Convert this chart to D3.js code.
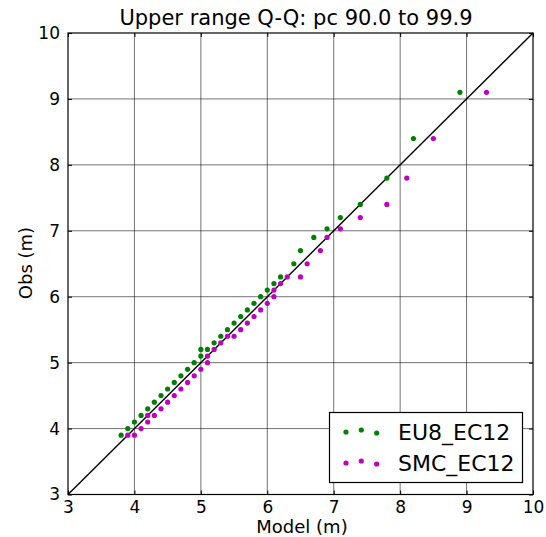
<!DOCTYPE html>
<html><head><meta charset="utf-8">
<script src="https://cdn.jsdelivr.net/npm/d3@7"></script>
<style>body{margin:0;background:#fff}svg{display:block}text{font-family:"DejaVu Sans",sans-serif;fill:#000}</style>
</head><body>
<script>
const title = "Upper range Q-Q: pc 90.0 to 99.9";
const xLabel = "Model (m)";
const yLabel = "Obs (m)";
const ticks = [3,4,5,6,7,8,9,10];
const seriesNames = ["EU8_EC12","SMC_EC12"];
const seriesColors = ["#008000","#bf00bf"];
// EU8_EC12 quantiles
const eu8Model = [3.8,3.9,4.0,4.1,4.2,4.3,4.4,4.5,4.6,4.7,4.8,4.9,5.0,5.0,5.1,5.2,5.3,5.4,5.5,5.6,5.7,5.8,5.9,6.0,6.1,6.2,6.4,6.5,6.7,6.9,7.1,7.4,7.8,8.2,8.9];
const eu8Obs   = [3.9,4.0,4.1,4.2,4.3,4.4,4.5,4.6,4.7,4.8,4.9,5.0,5.1,5.2,5.2,5.3,5.4,5.5,5.6,5.7,5.8,5.9,6.0,6.1,6.2,6.3,6.5,6.7,6.9,7.03,7.2,7.4,7.8,8.4,9.1];
// SMC_EC12 quantiles
const smcModel = [3.9,4.0,4.1,4.2,4.2,4.3,4.4,4.5,4.6,4.7,4.8,4.9,5.0,5.1,5.1,5.2,5.3,5.4,5.5,5.6,5.7,5.8,5.9,6.0,6.1,6.1,6.2,6.3,6.5,6.6,6.8,6.9,7.1,7.4,7.8,8.1,8.5,9.3];
const smcObs   = [3.9,3.9,4.0,4.1,4.2,4.2,4.3,4.4,4.5,4.6,4.7,4.8,4.9,5.0,5.1,5.2,5.3,5.4,5.4,5.5,5.6,5.7,5.8,5.9,6.0,6.1,6.2,6.3,6.3,6.5,6.7,6.9,7.03,7.2,7.4,7.8,8.4,9.1];
const legendYOffsets = [0.375,0.5,0.3125];

const W=546,H=537, L=68, R=533, T=33, B=494.5;
const svg=d3.select("body").append("svg").attr("width",W).attr("height",H);
const x=d3.scaleLinear().domain([3,10]).range([L,R]);
const y=d3.scaleLinear().domain([3,10]).range([B,T]);

// grid
const g=svg.append("g");
g.selectAll(".gx").data(ticks.slice(1,-1)).join("line")
 .attr("x1",d=>x(d)).attr("x2",d=>x(d)).attr("y1",T).attr("y2",B)
 .attr("stroke","#000").attr("stroke-width",1).attr("stroke-opacity",0.55);
g.selectAll(".gy").data(ticks.slice(1,-1)).join("line")
 .attr("y1",d=>y(d)).attr("y2",d=>y(d)).attr("x1",L).attr("x2",R)
 .attr("stroke","#000").attr("stroke-width",1).attr("stroke-opacity",0.55);

// diagonal
svg.append("line").attr("x1",x(3)).attr("y1",y(3)).attr("x2",x(10)).attr("y2",y(10))
 .attr("stroke","#000").attr("stroke-width",1.4);

// points
const data=[d3.zip(eu8Model,eu8Obs), d3.zip(smcModel,smcObs)];
data.forEach((pts,i)=>{
  svg.append("g").selectAll("circle").data(pts).join("circle")
   .attr("cx",d=>x(d[0])).attr("cy",d=>y(d[1])).attr("r",2.6)
   .attr("fill",seriesColors[i]);
});

// frame
svg.append("rect").attr("x",L).attr("y",T).attr("width",R-L).attr("height",B-T)
 .attr("fill","none").attr("stroke","#000").attr("stroke-width",1.2);

// axes (inward ticks)
const ax=svg.append("g").attr("transform",`translate(0,${B})`)
 .call(d3.axisBottom(x).tickValues(ticks).tickSize(-4).tickPadding(6).tickFormat(d3.format("d")));
const axT=svg.append("g").attr("transform",`translate(0,${T})`)
 .call(d3.axisTop(x).tickValues(ticks).tickSize(-4).tickFormat(""));
const ay=svg.append("g").attr("transform",`translate(${L},0)`)
 .call(d3.axisLeft(y).tickValues(ticks).tickSize(-4).tickPadding(8).tickFormat(d3.format("d")));
const ayR=svg.append("g").attr("transform",`translate(${R},0)`)
 .call(d3.axisRight(y).tickValues(ticks).tickSize(-4).tickFormat(""));
[ax,axT,ay,ayR].forEach(a=>{a.select(".domain").remove();a.selectAll("line").attr("stroke","#000");
  a.selectAll("text").style("font-size","17px").style("font-family","DejaVu Sans");});

// title & labels
svg.append("text").attr("x",296).attr("y",25).attr("text-anchor","middle").style("font-size","21px").text(title);
svg.append("text").attr("x",302).attr("y",533).attr("text-anchor","middle").style("font-size","18px").text(xLabel);
svg.append("text").attr("transform","translate(32,263) rotate(-90)").attr("text-anchor","middle").style("font-size","18px").text(yLabel);

// legend
const lg=svg.append("g");
lg.append("rect").attr("x",329.5).attr("y",412.5).attr("width",193).attr("height",70)
 .attr("fill","#fff").attr("stroke","#000").attr("stroke-width",1.2);
const rowY=[432,463];
const dotX=[346,361.3,376.7];
seriesNames.forEach((n,i)=>{
  lg.selectAll(null).data(legendYOffsets).join("circle")
   .attr("cx",(d,j)=>dotX[j]).attr("cy",d=>rowY[i]+ (0.375-d)*16).attr("r",2.6).attr("fill",seriesColors[i]);
  lg.append("text").attr("x",398).attr("y",rowY[i]+8).style("font-size","22px").text(n);
});
</script>
</body></html>
